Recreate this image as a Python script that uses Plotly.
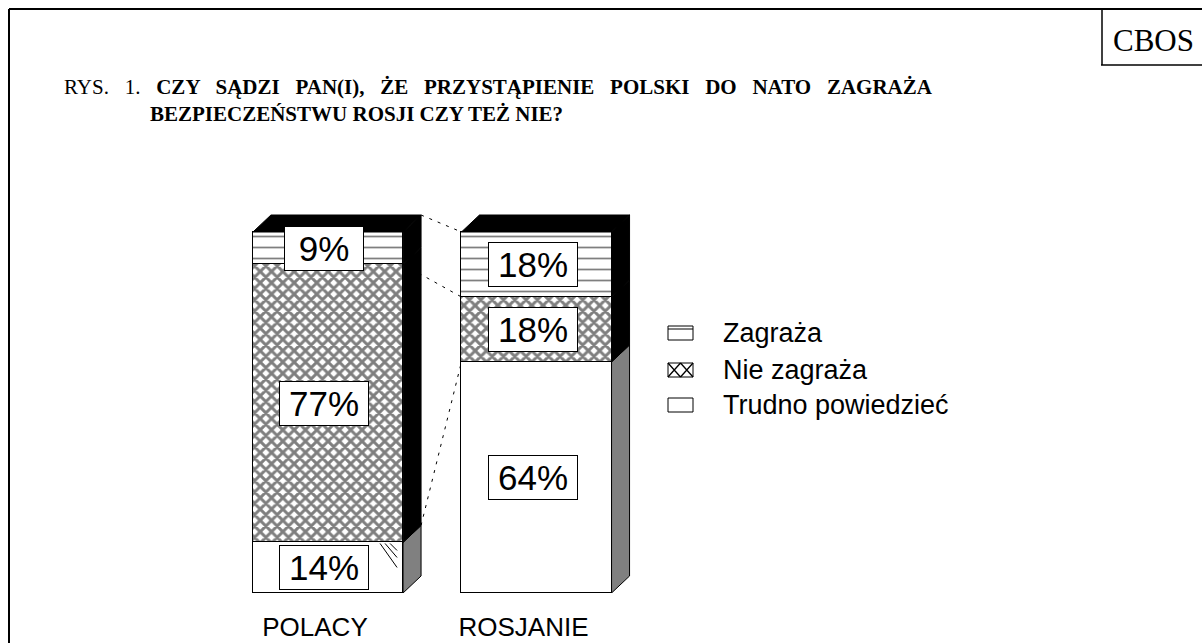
import plotly.graph_objects as go

# ---------------- data ----------------
categories = ["POLACY", "ROSJANIE"]
# stacked bottom -> top
trudno = [14, 64]          # Trudno powiedzieć
nie_zagraza = [77, 18]     # Nie zagraża
zagraza = [9, 18]          # Zagraża
series_names = ["Trudno powiedzieć", "Nie zagraża", "Zagraża"]
legend_order = ["Zagraża", "Nie zagraża", "Trudno powiedzieć"]
title_prefix = "RYS. 1."
title_line1 = "CZY SĄDZI PAN(I), ŻE PRZYSTĄPIENIE POLSKI DO NATO ZAGRAŻA"
title_line2 = "BEZPIECZEŃSTWU ROSJI CZY TEŻ NIE?"
source_label = "CBOS"

# ---------------- geometry / style ----------------
W, H = 1202, 643
PB = 593                      # plot-area bottom (px)
UX = 208.5                    # px per category
UY = 3.61                     # px per percent
X0PX = 328                    # px of first category centre
BAR_W = 0.72
DX = 18 / UX                  # 3-D depth
DY = 17 / UY
SANS = "Liberation Sans, Arial, sans-serif"
SERIF = "Liberation Serif, Times New Roman, serif"
NB = "&nbsp;&nbsp;"           # extra word spacing to mimic justified first title line

def px(x):
    return x / W

def py(y):
    return (PB - y) / PB

series_values = [trudno, nie_zagraza, zagraza]
patterns = [
    dict(shape="", fgcolor="black", bgcolor="white"),
    dict(shape="x", size=8, solidity=0.6, fgcolor="black", bgcolor="white"),
    dict(shape="-", size=11, solidity=0.16, fgcolor="black", bgcolor="white"),
]
side_colors = ["#808080", "black", "black"]

fig = go.Figure()
xs = list(range(len(categories)))
for name, vals, pat in zip(series_names, series_values, patterns):
    fig.add_trace(go.Bar(
        x=xs, y=vals, name=name, width=BAR_W,
        marker=dict(color="white", pattern=pat, line=dict(color="black", width=1)),
        showlegend=False, hoverinfo="skip",
    ))

shapes = []
annotations = []

# cumulative bases
bases = []
cum = [0] * len(categories)
for vals in series_values:
    bases.append(cum[:])
    cum = [c + v for c, v in zip(cum, vals)]
totals = cum

# 3-D side & top faces
for i in xs:
    xr = i + BAR_W / 2
    xl = i - BAR_W / 2
    for s, vals in enumerate(series_values):
        b = bases[s][i]
        t = b + vals[i]
        path = (f"M{xr},{b} L{xr+DX},{b+DY} L{xr+DX},{t+DY} L{xr},{t} Z")
        shapes.append(dict(type="path", path=path, xref="x", yref="y",
                           fillcolor=side_colors[s], line=dict(color="black", width=1),
                           layer="above"))
    T = totals[i]
    path = f"M{xl},{T} L{xl+DX},{T+DY} L{xr+DX},{T+DY} L{xr},{T} Z"
    shapes.append(dict(type="path", path=path, xref="x", yref="y",
                       fillcolor="black", line=dict(color="black", width=1), layer="above"))

# small stray hatch strokes in the corner of the first bar's bottom segment
cx, cy = 0 + BAR_W / 2, bases[1][0]
strokes = [(-23, 1, -6, 25), (-18, 1, -6, 15), (-13, 1, -6, 8)]
stroke_path = " ".join(
    f"M{cx + a / UX},{cy - b / UY} L{cx + c / UX},{cy - d / UY}" for a, b, c, d in strokes)
shapes.append(dict(type="path", path=stroke_path, xref="x", yref="y",
                   line=dict(color="black", width=1), layer="above"))

# series (connector) lines between bars
p_r = 0 + BAR_W / 2
r_l = 1 - BAR_W / 2
dash = "3px,6px"
shapes.append(dict(type="line", xref="x", yref="y", x0=p_r + DX, y0=totals[0] + DY,
                   x1=r_l, y1=totals[1], line=dict(color="black", width=1, dash=dash), layer="below"))
shapes.append(dict(type="line", xref="x", yref="y", x0=p_r, y0=bases[2][0],
                   x1=r_l, y1=bases[2][1], line=dict(color="black", width=1, dash=dash), layer="below"))
shapes.append(dict(type="line", xref="x", yref="y", x0=p_r + DX, y0=bases[1][0] + DY,
                   x1=r_l, y1=bases[1][1], line=dict(color="black", width=1, dash=dash), layer="below"))

# value labels
for s, vals in enumerate(series_values):
    for i in xs:
        txt = f"{vals[i]}%"
        annotations.append(dict(
            x=i, y=bases[s][i] + vals[i] / 2, xref="x", yref="y", text=txt,
            showarrow=False, xshift=-4, xanchor="center", yanchor="middle",
            font=dict(family=SANS, size=35, color="black"),
            bgcolor="white", bordercolor="black", borderwidth=1, borderpad=0,
            width=78 if len(txt) == 2 else 88, height=43,
        ))

# page frame
shapes.append(dict(type="line", xref="paper", yref="paper", x0=px(9), y0=py(9), x1=px(1202), y1=py(9),
                   line=dict(color="black", width=2)))
shapes.append(dict(type="line", xref="paper", yref="paper", x0=px(9), y0=py(9), x1=px(9), y1=py(643),
                   line=dict(color="black", width=2)))
# CBOS box
shapes.append(dict(type="line", xref="paper", yref="paper", x0=px(1102), y0=py(9), x1=px(1102), y1=py(65),
                   line=dict(color="black", width=1.5)))
shapes.append(dict(type="line", xref="paper", yref="paper", x0=px(1101), y0=py(65), x1=px(1202), y1=py(65),
                   line=dict(color="black", width=1.5)))
annotations.append(dict(x=px(1153), y=py(40), xref="paper", yref="paper", text=source_label,
                        xanchor="center", yanchor="middle",
                        showarrow=False, font=dict(family=SERIF, size=31, color="black")))

# title
line1_words = title_line1.split(" ")
line1_html = f"{title_prefix.replace(' ', ' ' + NB)} {NB}<b>" + (" " + NB).join(line1_words) + "</b>"
annotations.append(dict(x=px(62), y=py(87), xref="paper", yref="paper", xanchor="left",
                        yanchor="middle", text=line1_html, showarrow=False,
                        font=dict(family=SERIF, size=21, color="black")))
annotations.append(dict(x=px(148), y=py(114), xref="paper", yref="paper", xanchor="left",
                        yanchor="middle", text=f"<b>{title_line2}</b>", showarrow=False,
                        font=dict(family=SERIF, size=21, color="black")))

# legend (manual)
leg_y = [333, 370, 405]
for name, yc in zip(legend_order, leg_y):
    x0, x1 = px(668), px(693)
    y0, y1 = py(yc - 7), py(yc + 7)
    shapes.append(dict(type="rect", xref="paper", yref="paper", x0=x0, x1=x1, y0=y0, y1=y1,
                       line=dict(color="black", width=1), fillcolor="white"))
    if name == "Zagraża":
        shapes.append(dict(type="line", xref="paper", yref="paper", x0=x0, x1=x1,
                           y0=py(yc - 4), y1=py(yc - 4), line=dict(color="black", width=1)))
    elif name == "Nie zagraża":
        xm = px(680.5)
        path = (f"M{x0},{y0} L{xm},{y1} M{xm},{y0} L{x0},{y1} "
                f"M{xm},{y0} L{x1},{y1} M{x1},{y0} L{xm},{y1}")
        shapes.append(dict(type="path", xref="paper", yref="paper", path=path,
                           line=dict(color="black", width=1.3)))
    annotations.append(dict(x=px(721), y=py(yc), xref="paper", yref="paper", xanchor="left",
                            yanchor="middle", text=name, showarrow=False,
                            font=dict(family=SANS, size=27, color="black")))

LABEL_OFF = -13 / UX
fig.update_layout(
    width=W, height=H,
    margin=dict(l=0, r=0, t=0, b=H - PB, pad=0),
    barmode="stack", bargap=0,
    paper_bgcolor="white", plot_bgcolor="white",
    showlegend=False,
    xaxis=dict(range=[-X0PX / UX, (W - X0PX) / UX], tickvals=[i + LABEL_OFF for i in xs],
               ticktext=categories, ticks="", showgrid=False, zeroline=False, showline=False,
               tickfont=dict(family=SANS, size=26, color="black"), ticklabelstandoff=16,
               fixedrange=True),
    yaxis=dict(range=[0, PB / UY], visible=False, showgrid=False, zeroline=False, fixedrange=True),
    shapes=shapes, annotations=annotations,
)

fig.write_html("out.html", config={"displayModeBar": False},
               post_script="document.body.style.margin='0';")
